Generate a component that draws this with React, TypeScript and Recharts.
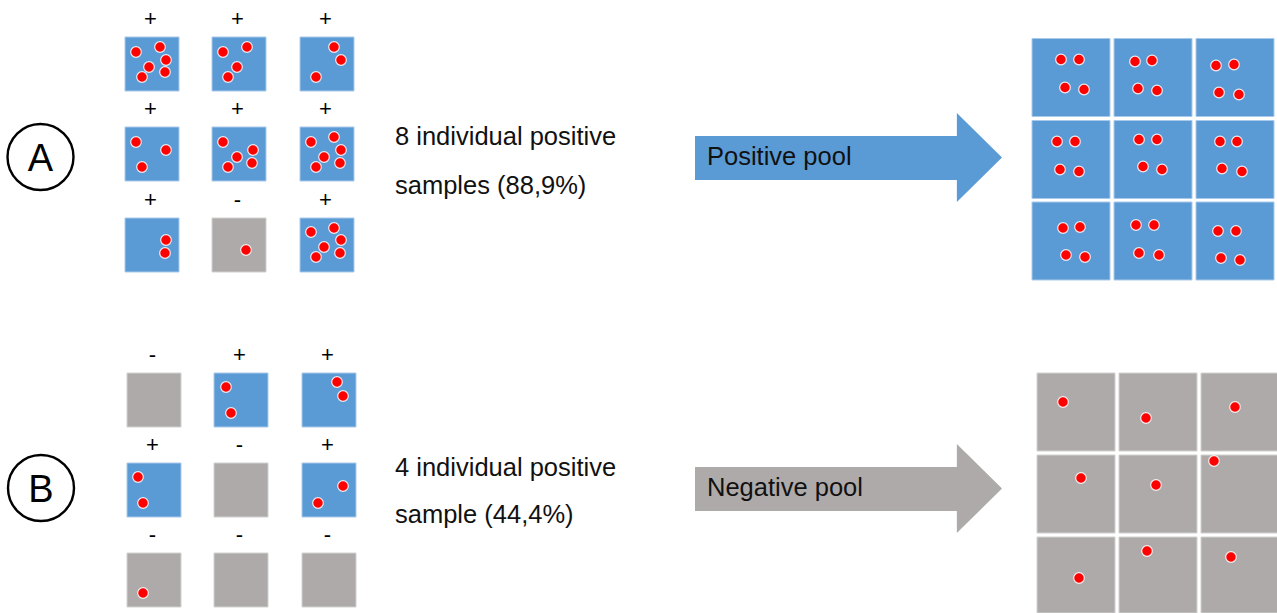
import React from 'react';
import { ScatterChart, Scatter, XAxis, YAxis, ReferenceArea } from 'recharts';

const W = 1277;
const H = 613;

// ---------- data ----------
// Sample status of the 9 individual samples (row-major)
const panelAStatus = ['+', '+', '+', '+', '+', '+', '+', '-', '+'];
const panelBStatus = ['-', '+', '+', '+', '-', '+', '-', '-', '-'];

// Dots (pathogens) inside each individual sample, offsets within the sample cell
const panelADots: number[][][] = [
  [[11, 15], [35, 10], [41, 23], [24, 30], [17, 40], [40, 35]],
  [[11, 15], [35, 10], [25, 30], [16, 40]],
  [[34, 10], [41, 23], [16, 40]],
  [[11, 15], [41, 23], [17, 40]],
  [[11, 15], [41, 23], [25, 30], [40, 36], [16, 40]],
  [[11, 15], [34, 10], [41, 23], [24, 30], [40, 36], [16, 40]],
  [[41, 22], [40, 35]],
  [[34, 32]],
  [[11, 14], [34, 10], [41, 22], [24, 29], [40, 35], [16, 39]],
];
const panelBDots: number[][][] = [
  [],
  [[12, 14], [17, 40]],
  [[35, 9], [41, 23]],
  [[11, 14], [16, 40]],
  [],
  [[41, 23], [16, 40]],
  [[16, 40]],
  [],
  [],
];

// Dots inside each cell of the pooled samples
const poolADots: number[][][] = [
  [[29, 21], [47, 21], [33, 49], [52, 51]],
  [[21, 23], [38, 22], [24, 50], [43, 52]],
  [[20, 27], [38, 26], [23, 54], [43, 56]],
  [[25, 21], [43, 21], [28, 49], [47, 51]],
  [[25, 19], [43, 19], [29, 46], [48, 49]],
  [[24, 21], [41, 21], [26, 48], [46, 51]],
  [[31, 26], [48, 25], [34, 53], [53, 55]],
  [[22, 23], [40, 23], [25, 51], [45, 53]],
  [[22, 29], [40, 29], [25, 56], [44, 58]],
];
const poolBDots: number[][][] = [
  [[26, 29]],
  [[27, 45]],
  [[34, 34]],
  [[44, 23]],
  [[37, 30]],
  [[13, 6]],
  [[42, 41]],
  [[28, 14]],
  [[30, 20]],
];
const poolAStatus = ['+', '+', '+', '+', '+', '+', '+', '+', '+'];
const poolBStatus = ['-', '-', '-', '-', '-', '-', '-', '-', '-'];

// Texts
const panelLetters = ['A', 'B'];
const summaryLinesA = ['8 individual positive', 'samples (88,9%)'];
const summaryLinesB = ['4 individual positive', 'sample (44,4%)'];
const poolLabels = ['Positive pool', 'Negative pool'];

// ---------- layout (chart coordinate units) ----------
const LAYOUT = [
  {
    small: { cols: [125, 212, 300], rows: [37, 127, 218], size: 54 },
    pool: { cols: [1032, 1114, 1196], rows: [38.5, 120.5, 202], size: 78 },
    circle: { x: 40.5, y: 157 },
    text: { x: 395, ys: [145, 194] },
    arrow: { x1: 695, x2: 1002, y1: 113, y2: 202 },
    arrowText: { x: 707, y: 165 },
  },
  {
    small: { cols: [127, 214, 302], rows: [373, 463, 553], size: 54 },
    pool: { cols: [1037, 1119, 1201], rows: [373, 455, 537], size: 78 },
    circle: { x: 41, y: 488 },
    text: { x: 395, ys: [476, 523] },
    arrow: { x1: 695, x2: 1002, y1: 444, y2: 533 },
    arrowText: { x: 707, y: 496 },
  },
];

const BLUE = '#5B9BD5';
const GRAY = '#AEAAAA';
const BLUE_EDGE = '#A9C9EA';
const GRAY_EDGE = '#D3D1D1';
const FONT = '"Liberation Sans", Arial, Helvetica, sans-serif';

type Cell = { x1: number; x2: number; y1: number; y2: number; pos: boolean };

function buildCells(grid: { cols: number[]; rows: number[]; size: number }, status: string[]): Cell[] {
  const out: Cell[] = [];
  status.forEach((s, i) => {
    const c = grid.cols[i % 3];
    const r = grid.rows[Math.floor(i / 3)];
    out.push({ x1: c, x2: c + grid.size, y1: r, y2: r + grid.size, pos: s === '+' });
  });
  return out;
}

function buildDots(grid: { cols: number[]; rows: number[] }, dots: number[][][]) {
  const out: { x: number; y: number }[] = [];
  dots.forEach((list, i) => {
    const c = grid.cols[i % 3];
    const r = grid.rows[Math.floor(i / 3)];
    list.forEach(([dx, dy]) => out.push({ x: c + dx, y: r + dy }));
  });
  return out;
}

function buildSigns(grid: { cols: number[]; rows: number[]; size: number }, status: string[]) {
  return status.map((s, i) => ({
    x: grid.cols[i % 3] + grid.size / 2 - 1.5,
    y: grid.rows[Math.floor(i / 3)] - 19,
    label: s,
  }));
}

const cellsAll: Cell[] = [
  ...buildCells(LAYOUT[0].small, panelAStatus),
  ...buildCells(LAYOUT[1].small, panelBStatus),
  ...buildCells(LAYOUT[0].pool, poolAStatus),
  ...buildCells(LAYOUT[1].pool, poolBStatus),
];

const dotsAll = [
  ...buildDots(LAYOUT[0].small, panelADots),
  ...buildDots(LAYOUT[1].small, panelBDots),
  ...buildDots(LAYOUT[0].pool, poolADots),
  ...buildDots(LAYOUT[1].pool, poolBDots),
];

const signsAll = [
  ...buildSigns(LAYOUT[0].small, panelAStatus),
  ...buildSigns(LAYOUT[1].small, panelBStatus),
];

const circlesAll = panelLetters.map((l, i) => ({ x: LAYOUT[i].circle.x, y: LAYOUT[i].circle.y, label: l }));

const summaryAll = [summaryLinesA, summaryLinesB].flatMap((lines, i) =>
  lines.map((t, j) => ({ x: LAYOUT[i].text.x, y: LAYOUT[i].text.ys[j], label: t }))
);

const arrowTexts = poolLabels.map((t, i) => ({ x: LAYOUT[i].arrowText.x, y: LAYOUT[i].arrowText.y, label: t }));

// ---------- shapes ----------
const DotShape = (p: any) => (
  <circle cx={p.cx} cy={p.cy} r={5.3} fill="#FF0000" stroke="#FFFFFF" strokeOpacity={0.85} strokeWidth={1.2} />
);

const SignShape = (p: any) => (
  <text x={p.cx} y={p.cy} textAnchor="middle" dominantBaseline="central" fontFamily={FONT} fontSize={22} fill="#000">
    {p.payload.label}
  </text>
);

const CircleShape = (p: any) => (
  <g>
    <circle cx={p.cx} cy={p.cy} r={33} fill="#fff" stroke="#000" strokeWidth={2.4} />
    <text x={p.cx} y={p.cy + 14} textAnchor="middle" fontFamily={FONT} fontSize={38} fill="#000">
      {p.payload.label}
    </text>
  </g>
);

const LineTextShape = (p: any) => (
  <text x={p.cx} y={p.cy} textAnchor="start" fontFamily={FONT} fontSize={25.5} fill="#111">
    {p.payload.label}
  </text>
);

const ArrowShape = (p: any) => {
  const { x, y, width: w, height: h, fill } = p;
  const bt = y + h * 0.258;
  const bb = y + h * 0.753;
  const hx = x + w * 0.853;
  const pts = [
    [x, bt], [hx, bt], [hx, y], [x + w, y + h / 2], [hx, y + h], [hx, bb], [x, bb],
  ].map((q) => q.join(',')).join(' ');
  return <polygon points={pts} fill={fill} />;
};

export default function App() {
  return (
    <div style={{ position: 'absolute', left: 0, top: 0, width: W, height: H, background: '#fff' }}>
      <ScatterChart width={W} height={H} margin={{ top: 0, right: 0, bottom: 0, left: 0 }}>
        <XAxis type="number" dataKey="x" domain={[0, W]} hide allowDataOverflow />
        <YAxis type="number" dataKey="y" domain={[0, H]} reversed hide allowDataOverflow />
        {cellsAll.map((c, i) => (
          <ReferenceArea
            key={'c' + i}
            x1={c.x1}
            x2={c.x2}
            y1={c.y1}
            y2={Math.min(c.y2, H)}
            fill={c.pos ? BLUE : GRAY}
            fillOpacity={1}
            stroke={c.pos ? BLUE_EDGE : GRAY_EDGE}
            strokeWidth={1}
            ifOverflow="hidden"
          />
        ))}
        {LAYOUT.map((l, i) => (
          <ReferenceArea
            key={'a' + i}
            x1={l.arrow.x1}
            x2={l.arrow.x2}
            y1={l.arrow.y1}
            y2={l.arrow.y2}
            fill={i === 0 ? BLUE : GRAY}
            fillOpacity={1}
            shape={ArrowShape}
          />
        ))}
        <Scatter data={dotsAll} shape={DotShape} isAnimationActive={false} />
        <Scatter data={signsAll} shape={SignShape} isAnimationActive={false} />
        <Scatter data={circlesAll} shape={CircleShape} isAnimationActive={false} />
        <Scatter data={summaryAll} shape={LineTextShape} isAnimationActive={false} />
        <Scatter data={arrowTexts} shape={LineTextShape} isAnimationActive={false} />
      </ScatterChart>
    </div>
  );
}
